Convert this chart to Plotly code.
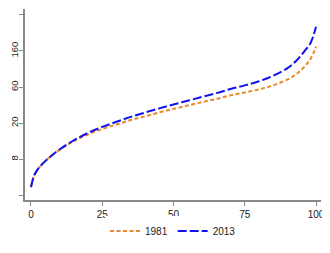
import math
import plotly.graph_objects as go

percentile = [0, 1, 2, 3, 5, 7.5, 10, 15, 20, 25, 30, 35, 40, 45, 50, 55, 60, 65, 70, 75, 80, 85, 90, 93, 95, 97, 98, 99, 100]
val_1981 = [3.7, 5.0, 5.8, 6.45, 7.6, 9.0, 10.4, 13.2, 15.9, 18.5, 21.0, 23.7, 26.3, 29.3, 32.3, 35.5, 39.0, 42.5, 47.0, 51.0, 55.5, 62.0, 73.0, 84.0, 96.0, 115.0, 128.0, 148.0, 181.0]
val_2013 = [3.7, 5.0, 5.8, 6.45, 7.6, 9.0, 10.5, 13.5, 16.6, 19.6, 22.6, 25.9, 29.2, 32.8, 36.5, 40.5, 45.0, 50.0, 56.0, 62.0, 69.5, 81.0, 100.0, 122.0, 145.0, 178.0, 198.0, 240.0, 315.0]

x_ticks = [0, 25, 50, 75, 100]
y_ticks = [8 * math.e ** k for k in range(-1, 5)]
y_labels = ["", "8", "20", "60", "160", ""]

FONT = "Liberation Sans, Arial, sans-serif"

fig = go.Figure()
fig.add_trace(go.Scatter(x=percentile, y=val_1981, mode="lines", name="1981",
                         line=dict(color="#E8892A", width=2, dash="4px,2.5px", shape="spline")))
fig.add_trace(go.Scatter(x=percentile, y=val_2013, mode="lines", name="2013",
                         line=dict(color="#1010F0", width=2, dash="9px,3px", shape="spline")))

# page body has an 8px default margin; size the figure to fit the window
fig.update_layout(
    width=322, height=245,
    margin=dict(l=17, r=9, t=1, b=53, autoexpand=False),
    paper_bgcolor="white", plot_bgcolor="white",
    font=dict(family=FONT, size=10, color="#222"),
    showlegend=True,
    legend=dict(orientation="h", x=0.5, xanchor="center", y=-0.162, yanchor="middle",
                font=dict(size=10), itemwidth=30, tracegroupgap=0),
    xaxis=dict(range=[-2.1, 101.75], tickvals=x_ticks, ticks="outside", ticklen=4,
               tickcolor="#888", showline=True, linecolor="#888", linewidth=1.5,
               showgrid=False, zeroline=False, tickfont=dict(size=10), automargin=False),
    yaxis=dict(type="log", range=[math.log10(math.exp(0.952)), math.log10(math.exp(6.242))],
               tickvals=y_ticks, ticktext=y_labels, tickangle=-90, ticks="outside", ticklen=4,
               tickcolor="#888", showline=True, linecolor="#888", linewidth=1.5,
               showgrid=False, zeroline=False, tickfont=dict(size=9.5), automargin=False,
               ticklabelstandoff=-3),
)

fig.write_html("out.html")
